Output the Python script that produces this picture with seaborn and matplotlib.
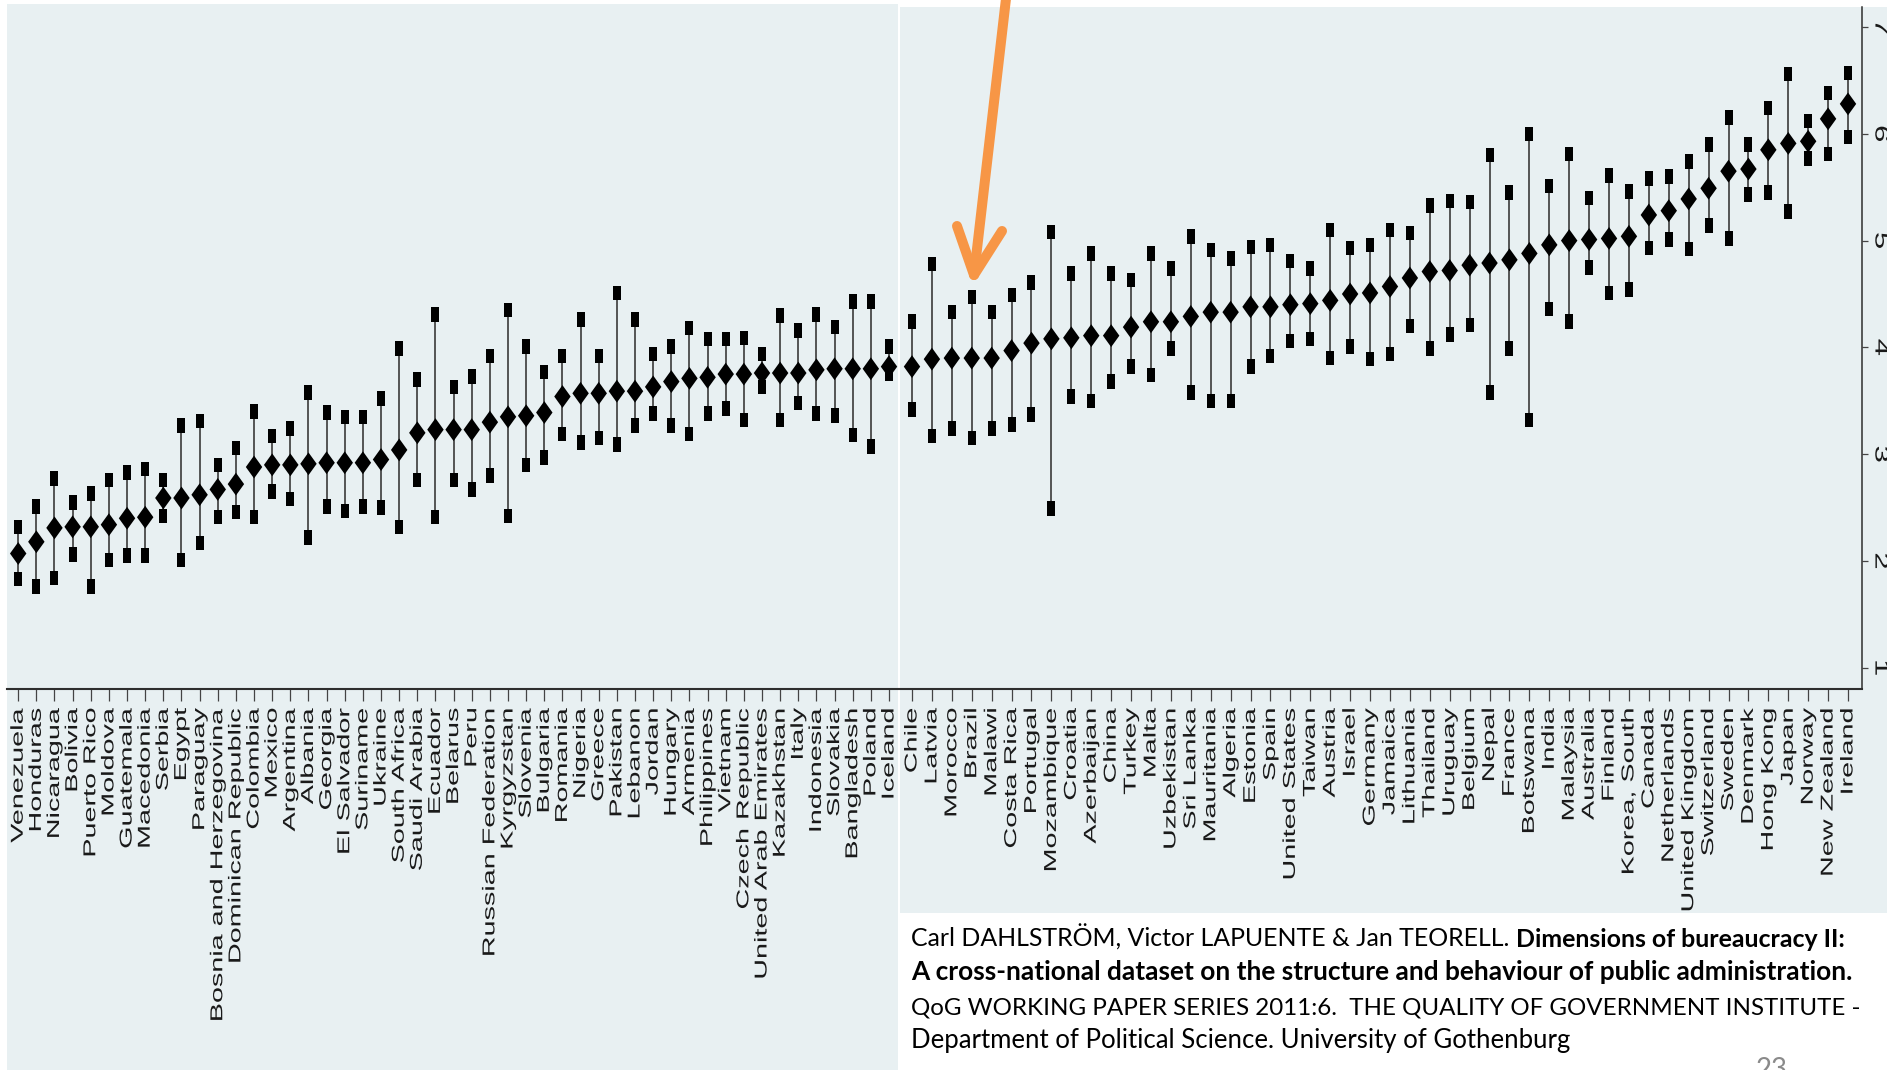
import numpy as np
import pandas as pd
import matplotlib
matplotlib.use("Agg")
import matplotlib.pyplot as plt
import seaborn as sns
from matplotlib.patches import Rectangle
from matplotlib.lines import Line2D
from matplotlib.markers import MarkerStyle
from matplotlib.patheffects import AbstractPathEffect
from matplotlib.transforms import Affine2D

# ---------------------------------------------------------------- data
left_countries = [
    "Venezuela", "Honduras", "Nicaragua", "Bolivia", "Puerto Rico", "Moldova",
    "Guatemala", "Macedonia", "Serbia", "Egypt", "Paraguay",
    "Bosnia and Herzegovina", "Dominican Republic", "Colombia", "Mexico",
    "Argentina", "Albania", "Georgia", "El Salvador", "Suriname", "Ukraine",
    "South Africa", "Saudi Arabia", "Ecuador", "Belarus", "Peru",
    "Russian Federation", "Kyrgyzstan", "Slovenia", "Bulgaria", "Romania",
    "Nigeria", "Greece", "Pakistan", "Lebanon", "Jordan", "Hungary", "Armenia",
    "Philippines", "Vietnam", "Czech Republic", "United Arab Emirates",
    "Kazakhstan", "Italy", "Indonesia", "Slovakia", "Bangladesh", "Poland",
    "Iceland",
]
left_mid = [2.07, 2.18, 2.31, 2.32, 2.32, 2.34, 2.40, 2.41, 2.59, 2.59,
            2.62, 2.67, 2.72, 2.88, 2.90, 2.90, 2.91, 2.92, 2.92, 2.92,
            2.95, 3.04, 3.20, 3.23, 3.23, 3.23, 3.30, 3.35, 3.36, 3.39,
            3.54, 3.57, 3.57, 3.59, 3.59, 3.63, 3.68, 3.71, 3.72, 3.75,
            3.75, 3.76, 3.76, 3.76, 3.79, 3.80, 3.80, 3.80, 3.82]
left_high = [2.32, 2.51, 2.77, 2.55, 2.63, 2.76, 2.83, 2.86, 2.76, 3.27,
             3.31, 2.90, 3.06, 3.40, 3.17, 3.24, 3.58, 3.39, 3.35, 3.35,
             3.52, 3.99, 3.70, 4.31, 3.63, 3.73, 3.92, 4.35, 4.01, 3.77,
             3.92, 4.26, 3.92, 4.51, 4.26, 3.94, 4.01, 4.18, 4.08, 4.08,
             4.09, 3.94, 4.30, 4.16, 4.31, 4.19, 4.43, 4.43, 4.01]
left_low = [1.83, 1.76, 1.84, 2.06, 1.76, 2.01, 2.05, 2.05, 2.42, 2.01,
            2.17, 2.41, 2.46, 2.41, 2.65, 2.58, 2.22, 2.51, 2.47, 2.51,
            2.50, 2.32, 2.76, 2.41, 2.76, 2.67, 2.80, 2.42, 2.90, 2.97,
            3.19, 3.11, 3.15, 3.09, 3.27, 3.38, 3.27, 3.19, 3.38, 3.43,
            3.32, 3.63, 3.32, 3.48, 3.38, 3.36, 3.18, 3.07, 3.75]

right_countries = [
    "Chile", "Latvia", "Morocco", "Brazil", "Malawi", "Costa Rica", "Portugal",
    "Mozambique", "Croatia", "Azerbaijan", "China", "Turkey", "Malta",
    "Uzbekistan", "Sri Lanka", "Mauritania", "Algeria", "Estonia", "Spain",
    "United States", "Taiwan", "Austria", "Israel", "Germany", "Jamaica",
    "Lithuania", "Thailand", "Uruguay", "Belgium", "Nepal", "France",
    "Botswana", "India", "Malaysia", "Australia", "Finland", "Korea, South",
    "Canada", "Netherlands", "United Kingdom", "Switzerland", "Sweden",
    "Denmark", "Hong Kong", "Japan", "Norway", "New Zealand", "Ireland",
]
right_mid = [3.82, 3.89, 3.90, 3.90, 3.90, 3.97, 4.04, 4.08, 4.09, 4.11,
             4.11, 4.19, 4.24, 4.24, 4.29, 4.33, 4.33, 4.38, 4.38, 4.40,
             4.41, 4.44, 4.50, 4.51, 4.57, 4.65, 4.71, 4.72, 4.77, 4.79,
             4.82, 4.88, 4.96, 5.00, 5.01, 5.02, 5.04, 5.24, 5.28, 5.39,
             5.49, 5.65, 5.67, 5.85, 5.91, 5.93, 6.14, 6.28]
right_high = [4.24, 4.78, 4.33, 4.47, 4.33, 4.49, 4.61, 5.08, 4.69, 4.88,
              4.69, 4.63, 4.88, 4.74, 5.04, 4.91, 4.83, 4.94, 4.96, 4.81,
              4.74, 5.10, 4.93, 4.96, 5.10, 5.07, 5.33, 5.37, 5.36, 5.80,
              5.45, 6.00, 5.51, 5.81, 5.40, 5.61, 5.46, 5.58, 5.60, 5.74,
              5.90, 6.15, 5.90, 6.24, 6.56, 6.12, 6.38, 6.57]
right_low = [3.42, 3.17, 3.24, 3.15, 3.24, 3.28, 3.37, 2.49, 3.54, 3.50,
             3.68, 3.82, 3.74, 3.99, 3.58, 3.50, 3.50, 3.82, 3.92, 4.06,
             4.08, 3.90, 4.01, 3.89, 3.94, 4.20, 3.99, 4.12, 4.21, 3.58,
             3.99, 3.32, 4.36, 4.24, 4.75, 4.51, 4.54, 4.93, 5.01, 4.92,
             5.14, 5.02, 5.43, 5.45, 5.27, 5.77, 5.81, 5.97]

y_ticks = [1, 2, 3, 4, 5, 6, 7]

citation_authors = "Carl DAHLSTRÖM, Victor LAPUENTE & Jan TEORELL. "
citation_title_1 = "Dimensions of bureaucracy II:"
citation_title_2 = ("A cross-national dataset on the structure and behaviour "
                    "of public administration.")
citation_series = ("QoG WORKING PAPER SERIES 2011:6.  THE QUALITY OF "
                   "GOVERNMENT INSTITUTE -")
citation_dept = "Department of Political Science. University of Gothenburg"
page_number = "23"

# ---------------------------------------------------------------- style
W, H = 1887, 1070
BG = "#E8F0F2"
INK = "#1a1a1a"
AXIS = "#2e2e2e"
ORANGE = "#F79646"
LABEL_FONT = ["Liberation Sans", "DejaVu Sans"]
LABEL_PT = 12.4
STRETCH = 1.67
YTICK_PT = 14
YTICK_STRETCH = 1.6


class StretchText(AbstractPathEffect):
    """Elongate glyphs along their reading direction (tall, narrow look)."""

    def __init__(self, factor, anchor="end"):
        super().__init__()
        self.factor = factor
        self.anchor = anchor

    def draw_path(self, renderer, gc, tpath, affine, rgbFace=None):
        ext = tpath.get_extents()
        if self.anchor == "end":
            x0 = ext.x1
        elif self.anchor == "center":
            x0 = 0.5 * (ext.x0 + ext.x1)
        else:
            x0 = 0.0
        t = Affine2D().translate(-x0, 0).scale(self.factor, 1).translate(x0, 0)
        renderer.draw_path(gc, tpath, t + affine, rgbFace)


DIAMOND = MarkerStyle([(0, 1), (0.72, 0), (0, -1), (-0.72, 0)])
CAP = MarkerStyle([(-0.55, -1), (0.55, -1), (0.55, 1), (-0.55, 1)])

fig = plt.figure(figsize=(W / 100, H / 100), dpi=100, facecolor="white")


def fx(px):
    return px / W


def fy(py):
    return 1 - py / H


# panel backgrounds
fig.add_artist(Rectangle((fx(7), 0), fx(898) - fx(7), fy(4),
                         transform=fig.transFigure, facecolor=BG,
                         edgecolor="none", zorder=-2))
fig.add_artist(Rectangle((fx(900), fy(913)), 1 - fx(900), fy(7) - fy(913),
                         transform=fig.transFigure, facecolor=BG,
                         edgecolor="none", zorder=-2))


def draw_panel(rect, countries, mid, low, high, xlim, ylim, show_y):
    ax = fig.add_axes(rect)
    ax.set_facecolor("none")
    df = pd.DataFrame({"pos": np.arange(len(countries)), "country": countries,
                       "mid": mid, "low": low, "high": high})
    ax.vlines(df["pos"], df["low"], df["high"], color="#3a3a3a", lw=1.2,
              zorder=2)
    ends = df.melt(id_vars=["pos"], value_vars=["low", "high"],
                   value_name="value")
    sns.scatterplot(data=ends, x="pos", y="value", marker=CAP, s=110,
                    color="black", linewidth=0, edgecolor="none", ax=ax,
                    zorder=3)
    sns.scatterplot(data=df, x="pos", y="mid", marker=DIAMOND, s=270,
                    color="black", linewidth=0, edgecolor="none", ax=ax,
                    zorder=4)
    ax.set_xlabel("")
    ax.set_ylabel("")
    ax.set_xlim(*xlim)
    ax.set_ylim(*ylim)

    ax.set_xticks(df["pos"], labels=df["country"], rotation=90, ha="center",
                  va="top", fontsize=LABEL_PT, family=LABEL_FONT, color=INK)
    ax.tick_params(axis="x", direction="out", length=8.6, width=0.9,
                   color="#444444", pad=5)
    for tk in ax.xaxis.get_major_ticks():
        tk.label1.set_path_effects([StretchText(STRETCH, "end")])

    for side in ("top", "left"):
        ax.spines[side].set_visible(False)
    ax.spines["bottom"].set_linewidth(1.5)
    ax.spines["bottom"].set_color(AXIS)
    if show_y:
        ax.spines["right"].set_linewidth(1.1)
        ax.spines["right"].set_color(AXIS)
        ax.yaxis.tick_right()
        ax.set_yticks(y_ticks, labels=[str(v) for v in y_ticks], rotation=-90,
                      va="center", ha="left", fontsize=YTICK_PT,
                      family=LABEL_FONT, color=INK)
        ax.tick_params(axis="y", direction="out", length=4.3, width=0.9,
                       color="#444444", pad=2.5)
        for tk in ax.yaxis.get_major_ticks():
            tk.label2.set_path_effects([StretchText(YTICK_STRETCH, "center")])
    else:
        ax.spines["right"].set_visible(False)
        ax.set_yticks([])
    return ax


px_per_unit = 106.8
y_bottom = 7 - (689 - 27) / px_per_unit

ax_left = draw_panel(
    [fx(7), fy(689), fx(898) - fx(7), fy(4) - fy(689)],
    left_countries, left_mid, left_low, left_high,
    xlim=(-(18.2 - 7) / 18.14, 48 + (898 - 889) / 18.14),
    ylim=(y_bottom, 7 + (27 - 4) / px_per_unit),
    show_y=False,
)
ax_right = draw_panel(
    [fx(900), fy(689), fx(1862) - fx(900), fy(7) - fy(689)],
    right_countries, right_mid, right_low, right_high,
    xlim=(-(912 - 900) / 19.91, 47 + (1862 - 1848) / 19.91),
    ylim=(y_bottom, 7 + (27 - 7) / px_per_unit),
    show_y=True,
)

# orange pointer
arrow_kw = dict(transform=fig.transFigure, color=ORANGE, lw=7.2,
                solid_capstyle="round", solid_joinstyle="round", zorder=10)
fig.add_artist(Line2D([fx(1007), fx(974)], [fy(-10), fy(275)], **arrow_kw))
fig.add_artist(Line2D([fx(957), fx(974), fx(1002)],
                      [fy(226), fy(275), fy(231)], **arrow_kw))

# citation
CITE_FONT = ["Lato", "DejaVu Sans"]
authors = fig.text(fx(911), fy(947), citation_authors, fontsize=17.9,
                   family=CITE_FONT, color="black", ha="left", va="baseline")
ax_right.annotate(citation_title_1, xy=(1, 0), xycoords=authors,
                  fontsize=17.9, family=CITE_FONT, fontweight="bold",
                  color="black", ha="left", va="bottom",
                  annotation_clip=False)
fig.text(fx(911), fy(980), citation_title_2, fontsize=18.9,
         family=CITE_FONT, fontweight="bold", color="black", ha="left",
         va="baseline")
fig.text(fx(911), fy(1014), citation_series, fontsize=17.4,
         family=CITE_FONT, color="black", ha="left", va="baseline")
fig.text(fx(911), fy(1048), citation_dept, fontsize=18.5,
         family=CITE_FONT, color="black", ha="left", va="baseline")
fig.text(fx(1772), fy(1057), page_number, fontsize=20, family=CITE_FONT,
         color="#8a8a8a", ha="center", va="top")

fig.savefig("out.png", dpi=100, facecolor="white")
